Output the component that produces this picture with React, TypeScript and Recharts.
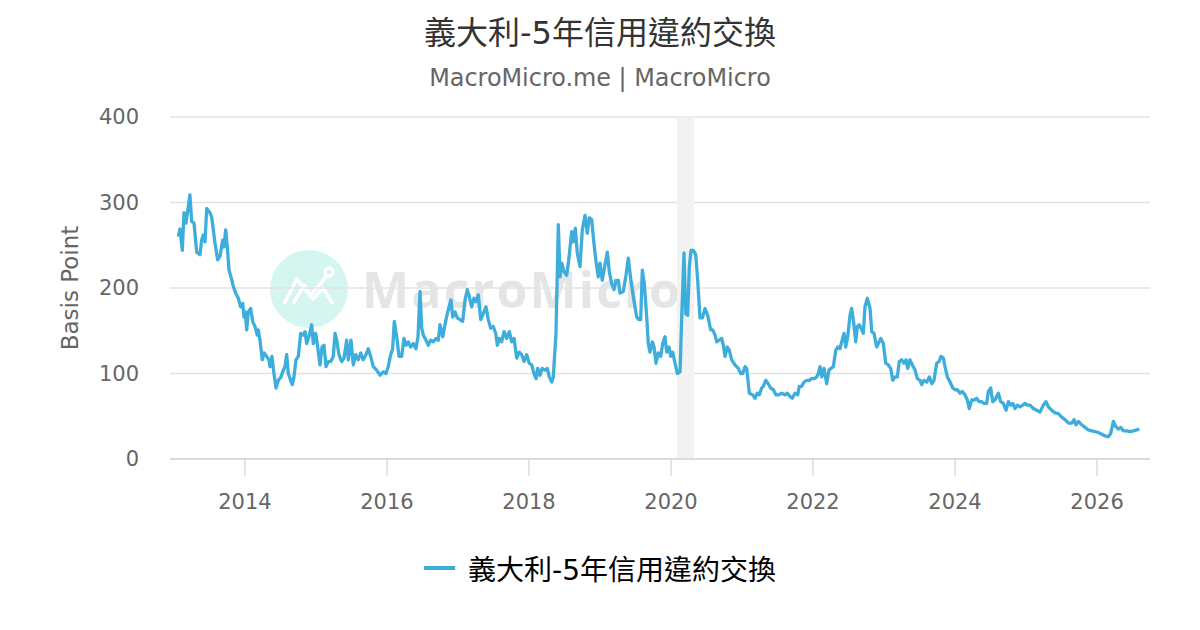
import React from 'react'
import {
  LineChart,
  Line,
  XAxis,
  YAxis,
  CartesianGrid,
  ReferenceArea,
  Legend,
} from 'recharts'

// Italy 5Y CDS, basis points, [decimal year, value]
const cds2013 = [[2013.061,260],[2013.085,269],[2013.117,244],[2013.141,288],[2013.169,276],[2013.225,309],[2013.249,278],[2013.282,276],[2013.320,242],[2013.366,239],[2013.390,256],[2013.413,262],[2013.437,254],[2013.461,293],[2013.507,288],[2013.531,283],[2013.577,253],[2013.615,233],[2013.648,237],[2013.686,256],[2013.704,248],[2013.728,268],[2013.751,248],[2013.775,221],[2013.803,213],[2013.835,202],[2013.869,194],[2013.906,188],[2013.939,178],[2013.968,182],[2013.986,166]]
const cds2014 = [[2014.004,172],[2014.024,151],[2014.046,172],[2014.080,176],[2014.108,161],[2014.141,155],[2014.173,145],[2014.187,151],[2014.211,139],[2014.244,116],[2014.272,124],[2014.306,120],[2014.338,116],[2014.352,108],[2014.380,120],[2014.408,100],[2014.437,83],[2014.469,92],[2014.507,96],[2014.531,102],[2014.563,108],[2014.587,122],[2014.610,100],[2014.644,92],[2014.666,87],[2014.690,96],[2014.718,116],[2014.751,120],[2014.785,147],[2014.821,145],[2014.845,149],[2014.869,135],[2014.906,145],[2014.939,157],[2014.962,135],[2014.996,147]]
const cds2015 = [[2015.024,131],[2015.056,110],[2015.085,131],[2015.113,133],[2015.141,108],[2015.173,114],[2015.207,114],[2015.244,120],[2015.268,147],[2015.292,139],[2015.324,122],[2015.362,114],[2015.394,118],[2015.432,139],[2015.455,116],[2015.493,139],[2015.525,110],[2015.559,122],[2015.596,116],[2015.630,124],[2015.666,116],[2015.704,122],[2015.737,129],[2015.770,120],[2015.807,108],[2015.855,104],[2015.901,98],[2015.948,102],[2015.986,100]]
const cds2016 = [[2016.018,108],[2016.052,122],[2016.080,129],[2016.103,161],[2016.137,143],[2016.169,120],[2016.207,120],[2016.239,141],[2016.268,133],[2016.300,137],[2016.334,131],[2016.370,135],[2016.408,129],[2016.437,143],[2016.465,196],[2016.489,153],[2016.511,145],[2016.549,139],[2016.582,133],[2016.615,139],[2016.652,137],[2016.690,141],[2016.723,139],[2016.746,157],[2016.785,143],[2016.817,157],[2016.849,170],[2016.873,178],[2016.901,186],[2016.925,166],[2016.958,172],[2016.990,165]]
const cds2017 = [[2017.028,163],[2017.066,161],[2017.099,186],[2017.131,198],[2017.159,190],[2017.193,178],[2017.225,188],[2017.254,184],[2017.286,192],[2017.320,163],[2017.356,170],[2017.394,178],[2017.427,163],[2017.461,153],[2017.497,155],[2017.531,147],[2017.554,133],[2017.582,141],[2017.615,137],[2017.648,149],[2017.686,141],[2017.723,149],[2017.756,137],[2017.789,141],[2017.827,118],[2017.863,125],[2017.897,122],[2017.930,114],[2017.968,122]]
const cds2018 = [[2018.004,112],[2018.038,110],[2018.070,100],[2018.099,94],[2018.123,106],[2018.155,98],[2018.187,106],[2018.225,104],[2018.258,106],[2018.286,96],[2018.320,90],[2018.342,96],[2018.380,147],[2018.413,274],[2018.437,213],[2018.461,229],[2018.493,219],[2018.531,215],[2018.563,235],[2018.601,266],[2018.624,254],[2018.652,270],[2018.680,241],[2018.718,225],[2018.751,268],[2018.789,285],[2018.821,264],[2018.849,282],[2018.883,280],[2018.915,252],[2018.944,231],[2018.976,213]]
const cds2019 = [[2019.000,229],[2019.032,209],[2019.070,227],[2019.103,242],[2019.131,219],[2019.165,205],[2019.197,198],[2019.225,209],[2019.258,209],[2019.282,194],[2019.328,196],[2019.366,215],[2019.399,235],[2019.432,211],[2019.469,190],[2019.517,166],[2019.549,163],[2019.573,163],[2019.596,221],[2019.624,205],[2019.658,166],[2019.680,135],[2019.704,125],[2019.737,137],[2019.761,131],[2019.789,112],[2019.821,124],[2019.855,120],[2019.883,135],[2019.915,143],[2019.939,125],[2019.972,131],[2019.996,120]]
const cds2020 = [[2020.024,125],[2020.056,112],[2020.089,100],[2020.127,102],[2020.151,166],[2020.183,241],[2020.207,170],[2020.235,168],[2020.258,225],[2020.282,244],[2020.314,244],[2020.348,239],[2020.376,209],[2020.408,165],[2020.441,165],[2020.479,176],[2020.517,168],[2020.559,151],[2020.587,151],[2020.620,145],[2020.644,137],[2020.680,139],[2020.714,141],[2020.737,133],[2020.761,120],[2020.793,131],[2020.821,127],[2020.855,116],[2020.901,110],[2020.948,106],[2020.982,100]]
const cds2021 = [[2021.010,100],[2021.042,108],[2021.066,106],[2021.103,77],[2021.151,75],[2021.183,71],[2021.215,77],[2021.244,75],[2021.277,83],[2021.300,85],[2021.334,92],[2021.370,88],[2021.404,83],[2021.441,81],[2021.479,75],[2021.511,75],[2021.559,77],[2021.606,75],[2021.638,77],[2021.676,73],[2021.708,71],[2021.746,77],[2021.785,75],[2021.807,85],[2021.841,85],[2021.873,90],[2021.911,92],[2021.948,92],[2021.982,94]]
const cds2022 = [[2022.018,94],[2022.052,96],[2022.075,100],[2022.099,108],[2022.123,96],[2022.155,106],[2022.193,88],[2022.225,104],[2022.254,106],[2022.286,108],[2022.320,127],[2022.348,131],[2022.380,129],[2022.404,137],[2022.437,147],[2022.461,131],[2022.489,143],[2022.521,168],[2022.545,176],[2022.568,163],[2022.601,137],[2022.624,155],[2022.652,157],[2022.686,151],[2022.708,147],[2022.732,178],[2022.765,188],[2022.803,176],[2022.827,149],[2022.859,147],[2022.897,131],[2022.930,137],[2022.954,141],[2022.990,135]]
const cds2023 = [[2023.024,112],[2023.061,110],[2023.094,106],[2023.123,92],[2023.155,96],[2023.187,96],[2023.215,114],[2023.249,116],[2023.282,112],[2023.310,116],[2023.334,106],[2023.366,116],[2023.399,110],[2023.437,104],[2023.469,94],[2023.507,92],[2023.531,87],[2023.563,92],[2023.601,90],[2023.638,96],[2023.672,88],[2023.704,92],[2023.742,112],[2023.775,114],[2023.803,120],[2023.835,118],[2023.859,108],[2023.892,96],[2023.930,90],[2023.968,83]]
const cds2024 = [[2024.000,81],[2024.032,81],[2024.070,77],[2024.103,79],[2024.141,75],[2024.173,69],[2024.201,59],[2024.235,69],[2024.268,69],[2024.306,71],[2024.338,67],[2024.376,67],[2024.408,65],[2024.446,65],[2024.469,79],[2024.503,83],[2024.531,67],[2024.563,69],[2024.610,77],[2024.644,67],[2024.680,65],[2024.718,57],[2024.751,67],[2024.785,63],[2024.813,65],[2024.845,59],[2024.877,63],[2024.915,61],[2024.954,63],[2024.986,65]]
const cds2025 = [[2025.018,63],[2025.056,63],[2025.103,59],[2025.151,57],[2025.197,55],[2025.244,63],[2025.282,67],[2025.314,61],[2025.362,57],[2025.408,54],[2025.455,53],[2025.503,49],[2025.549,46],[2025.596,42],[2025.644,42],[2025.676,46],[2025.704,40],[2025.737,44],[2025.785,40],[2025.831,37],[2025.877,34],[2025.925,33],[2025.972,32]]
const cds2026 = [[2026.018,31],[2026.066,29],[2026.113,27],[2026.159,26],[2026.193,30],[2026.230,44],[2026.263,38],[2026.300,35],[2026.335,37],[2026.370,33],[2026.418,33],[2026.465,32],[2026.511,33],[2026.559,34],[2026.596,35]]

const yearTicks = [2014, 2016, 2018, 2020, 2022, 2024, 2026]
const valueTicks = [0, 100, 200, 300, 400]
const recession = [2020.085, 2020.324]

const SERIES_NAME = '義大利-5年信用違約交換'
const COLOR = '#3daedb'
const FONT = '"DejaVu Sans", "Noto Sans CJK TC", sans-serif'

const data = [
  ...cds2013, ...cds2014, ...cds2015, ...cds2016, ...cds2017, ...cds2018, ...cds2019,
  ...cds2020, ...cds2021, ...cds2022, ...cds2023, ...cds2024, ...cds2025, ...cds2026,
].map(([t, v]) => ({ t, v }))

function LegendContent() {
  return (
    <div style={{ display: 'flex', alignItems: 'center', justifyContent: 'center', height: 40 }}>
      <span style={{ display: 'inline-block', width: 31, height: 4, background: COLOR, marginRight: 13 }} />
      <span style={{ fontSize: 28, color: '#000', fontFamily: FONT }}>{SERIES_NAME}</span>
    </div>
  )
}

function Watermark() {
  return (
    <svg width={1200} height={630} style={{ position: 'absolute', left: 0, top: 0 }}>
      <circle cx={309} cy={289} r={39} fill="#d5f6f0" />
      <polyline points="284,304 297,279 310,296 321,283 327,275" fill="none" stroke="#fff" strokeWidth={3.5} strokeLinejoin="round" />
      <polyline points="293,304 304,285 313,299 323,288 333,304" fill="none" stroke="#fff" strokeWidth={3.5} strokeLinejoin="round" />
      <circle cx={329} cy={272} r={4} fill="none" stroke="#fff" strokeWidth={3} />
      <text x={362} y={308} fontSize={50} fontWeight={700} fill="#e4e5e7" fontFamily="'Open Sans', sans-serif" textLength={318}>
        MacroMicro
      </text>
    </svg>
  )
}

export default function App() {
  return (
    <div style={{ position: 'absolute', left: 0, top: 0, width: 1200, height: 630, background: '#fff', fontFamily: FONT }}>
      <Watermark />
      <div style={{ position: 'absolute', top: 12, width: 1200, textAlign: 'center', fontSize: 32, color: '#333', lineHeight: '42px' }}>
        {SERIES_NAME}
      </div>
      <div style={{ position: 'absolute', top: 63, width: 1200, textAlign: 'center', fontSize: 23.9, color: '#666', lineHeight: '30px' }}>
        MacroMicro.me | MacroMicro
      </div>
      <div style={{ position: 'absolute', left: 0, top: 0 }}>
        <LineChart width={1200} height={630} data={data} margin={{ top: 117, right: 50, bottom: 0, left: 90 }}>
          <CartesianGrid vertical={false} stroke="#e3e3e3" strokeWidth={1.3} />
          <ReferenceArea x1={recession[0]} x2={recession[1]} y1={0} y2={400} fill="#f2f2f2" fillOpacity={1} stroke="none" />
          <XAxis
            dataKey="t"
            type="number"
            domain={[2012.944, 2026.746]}
            ticks={yearTicks}
            allowDataOverflow
            height={131}
            tickSize={17}
            tickMargin={18}
            stroke="#cccccc"
            tick={{ fill: '#666', fontSize: 21, fontFamily: FONT }}
          />
          <YAxis
            type="number"
            domain={[0, 400]}
            ticks={valueTicks}
            width={80}
            axisLine={false}
            tickLine={false}
            tickSize={0}
            tickMargin={31}
            tick={{ fill: '#666', fontSize: 21, fontFamily: FONT }}
            label={({ viewBox }: any) => (
              <text
                x={70}
                y={viewBox.y + viewBox.height / 2}
                transform={`rotate(-90, 70, ${viewBox.y + viewBox.height / 2})`}
                textAnchor="middle"
                dominantBaseline="central"
                fill="#666"
                fontSize={23}
                fontFamily={FONT}
              >
                Basis Point
              </text>
            )}
          />
          <Line
            type="linear"
            dataKey="v"
            name={SERIES_NAME}
            stroke={COLOR}
            strokeWidth={3.3}
            dot={false}
            strokeLinejoin="round"
            isAnimationActive={false}
          />
          <Legend height={40} content={<LegendContent />} wrapperStyle={{ left: 0, width: 1200, top: 548 }} />
        </LineChart>
      </div>
    </div>
  )
}
